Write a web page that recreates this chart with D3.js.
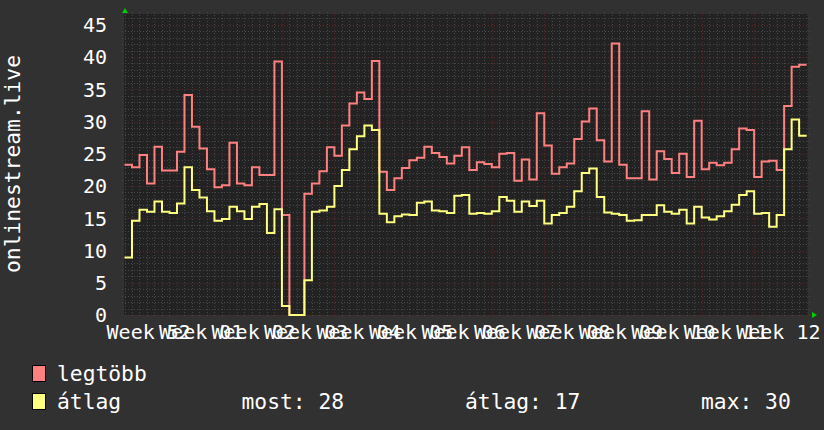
<!DOCTYPE html>
<html><head><meta charset="utf-8">
<script src="https://cdn.jsdelivr.net/npm/d3@7"></script>
<style>
body{margin:0;background:#313131;}
svg{display:block;}
text{font-family:"DejaVu Sans Mono",monospace;fill:#ffffff;}
</style>
</head><body>
<svg id="chart" width="824" height="430"></svg>
<script>
// ---- data (daily values, starting Monday of ISO week 52) ----
const startDay = "2025-12-22";
const dayCount = 91;
const legtobb = [
  23.3, 22.9, 24.8, 20.4, 26.1, 22.4, 22.4, 25.3, 34.1, 29.2,
  25.8, 22.6, 19.8, 20.1, 26.7, 20.4, 20.1, 22.9, 21.7, 21.7,
  39.3, 15.5, 0, 0, 18.8, 20.4, 22.3, 26.0, 24.7, 29.4,
  32.8, 34.5, 33.5, 39.4, 22.2, 19.4, 21.2, 22.8, 24.0, 24.4,
  26.1, 25.1, 24.5, 23.5, 24.7, 26.0, 22.5, 23.7, 23.4, 22.9,
  25.0, 25.1, 20.8, 24.1, 21.0, 31.3, 26.3, 21.9, 22.9, 23.5,
  27.3, 30.0, 32.0, 27.1, 23.8, 42.1, 23.3, 21.2, 21.2, 31.6,
  21.0, 25.4, 24.2, 22.0, 25.0, 21.4, 30.1, 22.6, 23.6, 23.2,
  23.6, 25.7, 28.9, 28.7, 21.4, 23.8, 23.9, 22.5, 32.4, 38.5, 38.8
];
const atlag = [
  8.9, 14.6, 16.3, 16.0, 17.6, 16.0, 15.8, 17.3, 22.9, 19.4,
  18.2, 16.1, 14.6, 14.9, 16.8, 16.1, 14.9, 16.8, 17.2, 12.7,
  16.4, 1.4, 0, 0, 5.4, 16.0, 16.2, 16.8, 20.0, 22.5,
  25.7, 27.7, 29.4, 28.7, 15.7, 14.4, 15.3, 15.6, 15.5, 17.4,
  17.6, 16.2, 16.1, 15.8, 18.5, 18.6, 15.7, 15.8, 15.7, 16.1,
  18.3, 17.7, 16.0, 17.6, 16.9, 17.7, 14.2, 15.5, 15.8, 16.8,
  19.2, 22.0, 22.7, 18.3, 15.9, 15.7, 15.5, 14.6, 14.7, 15.5,
  15.5, 17.0, 16.0, 15.7, 16.3, 14.2, 16.8, 15.1, 14.8, 15.3,
  16.1, 17.1, 18.6, 19.2, 15.7, 15.8, 13.7, 15.5, 25.7, 30.3, 27.8
];
const weekLabels = ["Week 52","Week 01","Week 02","Week 03","Week 04","Week 05","Week 06",
                    "Week 07","Week 08","Week 09","Week 10","Week 11","Week 12"];
const yTicks = [0,5,10,15,20,25,30,35,40,45];
const yTitle = "onlinestream.live";
const seriesNames = ["legtöbb","átlag"];
const seriesColors = ["#ff8080","#ffff80"];
const statTexts = ["most: 28","átlag: 17","max: 30"];

// ---- layout ----
const DAY = 864e5;
const t0 = new Date(startDay + "T00:00:00Z");
const plot = {l:124, r:808, t:14, b:315};
const x = d3.scaleUtc()
  .domain([t0, new Date(+t0 + 91.25*DAY)])
  .range([124.5, 808.5]);
const y = d3.scaleLinear().domain([0, 46.67]).range([plot.b, plot.t]);

const svg = d3.select("#chart");
svg.append("rect").attr("width",824).attr("height",430).attr("fill","#313131");
svg.append("rect").attr("x",plot.l).attr("y",plot.t)
  .attr("width",plot.r-plot.l).attr("height",plot.b-plot.t).attr("fill","#222222");

const grid = svg.append("g").attr("shape-rendering","crispEdges");
const minorCol = "#474747", majorCol = "#5a2929";
// horizontal grid
d3.range(0, 47).forEach(v => {
  const yy = Math.round(y(v)) + 0.5;
  grid.append("line").attr("x1",plot.l-2).attr("x2",plot.r+2).attr("y1",yy).attr("y2",yy)
    .attr("stroke", v%5===0 ? majorCol : minorCol)
    .attr("stroke-dasharray","1,2");
});
// vertical grid (days, weeks)
d3.range(0, dayCount+1).forEach(k => {
  const xx = Math.round(x(new Date(+t0 + k*DAY))) + 0.5;
  if (xx > plot.r+1) return;
  grid.append("line").attr("x1",xx).attr("x2",xx).attr("y1",plot.t-2).attr("y2",plot.b+2)
    .attr("stroke", (k%7===0 && k>0) ? majorCol : minorCol)
    .attr("stroke-dasharray","1,2");
});

// series
const line = d3.line().curve(d3.curveStepAfter)
  .x(d => x(d[0])).y(d => y(d[1]));
[legtobb, atlag].forEach((arr, i) => {
  const pts = arr.map((v, k) => [new Date(+t0 + k*DAY), v]);
  pts.push([new Date(+t0 + arr.length*DAY), arr[arr.length-1]]);
  svg.append("path").datum(pts).attr("d", line)
    .attr("fill","none").attr("stroke",seriesColors[i]).attr("stroke-width",2);
});

// arrows
svg.append("path").attr("d","M122,13L128,13L125,8Z").attr("fill","#00d000");
svg.append("path").attr("d","M812,312L812,318L817,315Z").attr("fill","#00d000");

// y tick labels
yTicks.forEach(v => {
  svg.append("text").attr("x",107).attr("y",y(v)+7.3)
    .attr("text-anchor","end").attr("font-size",20).text(v);
});
// x labels
weekLabels.forEach((s, k) => {
  svg.append("text").attr("x", x(new Date(+t0 + (7*k + 3.5)*DAY)) - 2)
    .attr("y",338.5).attr("text-anchor","middle").attr("font-size",20).text(s);
});
// y title
svg.append("text").attr("transform","translate(19.5,164) rotate(-90)")
  .attr("text-anchor","middle").attr("font-size",21.3).text(yTitle);

// legend
const legY = [365, 393];
const legBase = [381, 408.5];
seriesNames.forEach((n, i) => {
  svg.append("rect").attr("x",32.5).attr("y",legY[i]+0.5).attr("width",13).attr("height",16)
    .attr("fill",seriesColors[i]).attr("stroke","#000").attr("stroke-width",1);
  svg.append("text").attr("x",57).attr("y",legBase[i]).attr("font-size",21.3).text(n);
});
const statX = [241.5, 465, 701];
statTexts.forEach((s, i) => {
  svg.append("text").attr("x",statX[i]).attr("y",legBase[1]).attr("font-size",21.3).text(s);
});
</script>
</body></html>
